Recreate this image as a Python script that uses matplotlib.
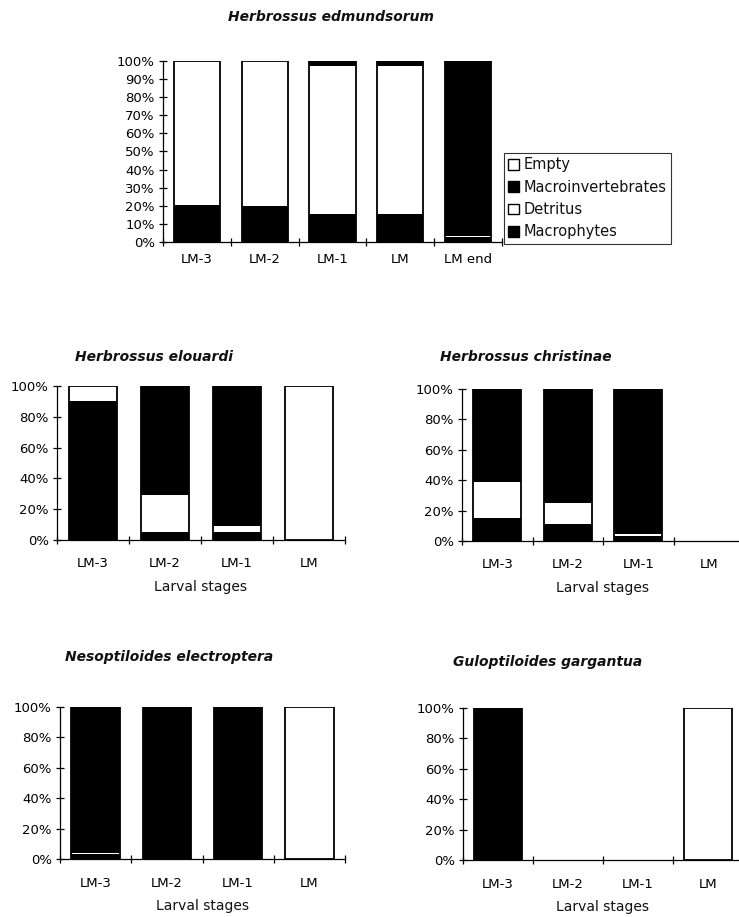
#!/usr/bin/env python
"""Gut content composition by larval stage, five species (stacked 100% bars)."""
import matplotlib.pyplot as plt
import numpy as np
from matplotlib.patches import Patch

# ---- data (percent of gut content) ----
stages_top = ["LM-3", "LM-2", "LM-1", "LM", "LM end"]
stages = ["LM-3", "LM-2", "LM-1", "LM"]
categories = ["Macrophytes", "Detritus", "Macroinvertebrates", "Empty"]

edmundsorum_macrophytes = [20.5, 20.0, 15.5, 15.5, 2.5]
edmundsorum_detritus = [79.5, 80.0, 82.0, 82.0, 0.8]
edmundsorum_macroinv = [0.0, 0.0, 2.5, 2.5, 96.7]
edmundsorum_empty = [0.0, 0.0, 0.0, 0.0, 0.0]

elouardi_macrophytes = [0.0, 5.0, 5.0, 0.0]
elouardi_detritus = [0.0, 24.0, 4.0, 0.0]
elouardi_macroinv = [90.0, 71.0, 91.0, 0.0]
elouardi_empty = [10.0, 0.0, 0.0, 100.0]

christinae_macrophytes = [15.0, 11.0, 3.0, 0.0]
christinae_detritus = [24.0, 14.0, 1.5, 0.0]
christinae_macroinv = [61.0, 75.0, 95.5, 0.0]
christinae_empty = [0.0, 0.0, 0.0, 0.0]

electroptera_macrophytes = [3.0, 0.0, 0.0, 0.0]
electroptera_detritus = [1.0, 0.0, 0.0, 0.0]
electroptera_macroinv = [96.0, 100.0, 100.0, 0.0]
electroptera_empty = [0.0, 0.0, 0.0, 100.0]

gargantua_macrophytes = [0.0, 0.0, 0.0, 0.0]
gargantua_detritus = [0.0, 0.0, 0.0, 0.0]
gargantua_macroinv = [100.0, 0.0, 0.0, 0.0]
gargantua_empty = [0.0, 0.0, 0.0, 100.0]

fills = {"Macrophytes": "black", "Detritus": "white",
         "Macroinvertebrates": "black", "Empty": "white"}

plt.rcParams["font.family"] = "DejaVu Sans"
plt.rcParams["text.color"] = "#111111"


def stacked(ax, labels, series, step, label_pad, xlabel=None):
    x = np.arange(len(labels))
    bottom = np.zeros(len(labels))
    for cat, vals in zip(categories, series):
        vals = np.asarray(vals, float)
        ax.bar(x, vals, 0.68, bottom=bottom, color=fills[cat], linewidth=0)
        bottom += vals
    # outline of each whole bar (only where there is something to outline)
    has = bottom > 0
    ax.bar(x[has], bottom[has], 0.68, fill=False, edgecolor="black", linewidth=1.3)
    ax.set_xlim(-0.5, len(labels) - 0.5)
    ax.set_ylim(0, 100)
    ax.set_yticks(np.arange(0, 101, step), [f"{v}%" for v in range(0, 101, step)])
    ax.set_xticks(x, labels)
    ax.set_xticks(np.arange(len(labels) + 1) - 0.5, minor=True)
    ax.tick_params(axis="x", which="major", length=0, pad=label_pad, labelsize=9.5)
    ax.tick_params(axis="x", which="minor", direction="inout", length=6, width=0.9)
    ax.tick_params(axis="y", direction="inout", length=6, width=0.9, pad=3, labelsize=9.5)
    for s in ("top", "right"):
        ax.spines[s].set_visible(False)
    for s in ("left", "bottom"):
        ax.spines[s].set_linewidth(0.9)
    if xlabel:
        ax.annotate(xlabel, (0.5, 0), xycoords="axes fraction", xytext=(0, -34),
                    textcoords="offset points", ha="center", va="center", fontsize=10)


W, H = 739, 917
fig = plt.figure(figsize=(W / 100, H / 100), dpi=100)


def axes_px(left, right, top, bottom):
    return fig.add_axes([left / W, 1 - bottom / H, (right - left) / W, (bottom - top) / H])


title_kw = dict(fontsize=10, fontweight="bold", style="italic", va="center")

ax0 = axes_px(163, 502, 61, 242)
stacked(ax0, stages_top, [edmundsorum_macrophytes, edmundsorum_detritus,
                          edmundsorum_macroinv, edmundsorum_empty], 10, 8)
fig.text(331 / W, 1 - 17 / H, "Herbrossus edmundsorum", ha="center", **title_kw)
handles = [Patch(facecolor=fills[c], edgecolor="black", linewidth=1) for c in categories[::-1]]
leg = fig.legend(handles, categories[::-1], loc="upper left",
                 bbox_to_anchor=(504 / W, 1 - 153 / H), fontsize=10.5, frameon=True,
                 fancybox=False, edgecolor="black", handlelength=0.75, handleheight=0.75,
                 handletextpad=0.3, labelspacing=0.5, borderpad=0.3, borderaxespad=0)
leg.get_frame().set_linewidth(0.8)

ax1 = axes_px(57, 345, 386, 540)
stacked(ax1, stages, [elouardi_macrophytes, elouardi_detritus,
                      elouardi_macroinv, elouardi_empty], 20, 12, "Larval stages")
fig.text(75 / W, 1 - 357 / H, "Herbrossus elouardi", ha="left", **title_kw)

ax2 = axes_px(462, 744, 389, 541)
stacked(ax2, stages, [christinae_macrophytes, christinae_detritus,
                      christinae_macroinv, christinae_empty], 20, 12, "Larval stages")
fig.text(440 / W, 1 - 357 / H, "Herbrossus christinae", ha="left", **title_kw)

ax3 = axes_px(60, 345, 707, 859)
stacked(ax3, stages, [electroptera_macrophytes, electroptera_detritus,
                      electroptera_macroinv, electroptera_empty], 20, 13, "Larval stages")
fig.text(65 / W, 1 - 657 / H, "Nesoptiloides electroptera", ha="left", **title_kw)

ax4 = axes_px(463, 743, 708, 860)
stacked(ax4, stages, [gargantua_macrophytes, gargantua_detritus,
                      gargantua_macroinv, gargantua_empty], 20, 13, "Larval stages")
fig.text(453 / W, 1 - 662 / H, "Guloptiloides gargantua", ha="left", **title_kw)

fig.savefig("out.png", dpi=100)
